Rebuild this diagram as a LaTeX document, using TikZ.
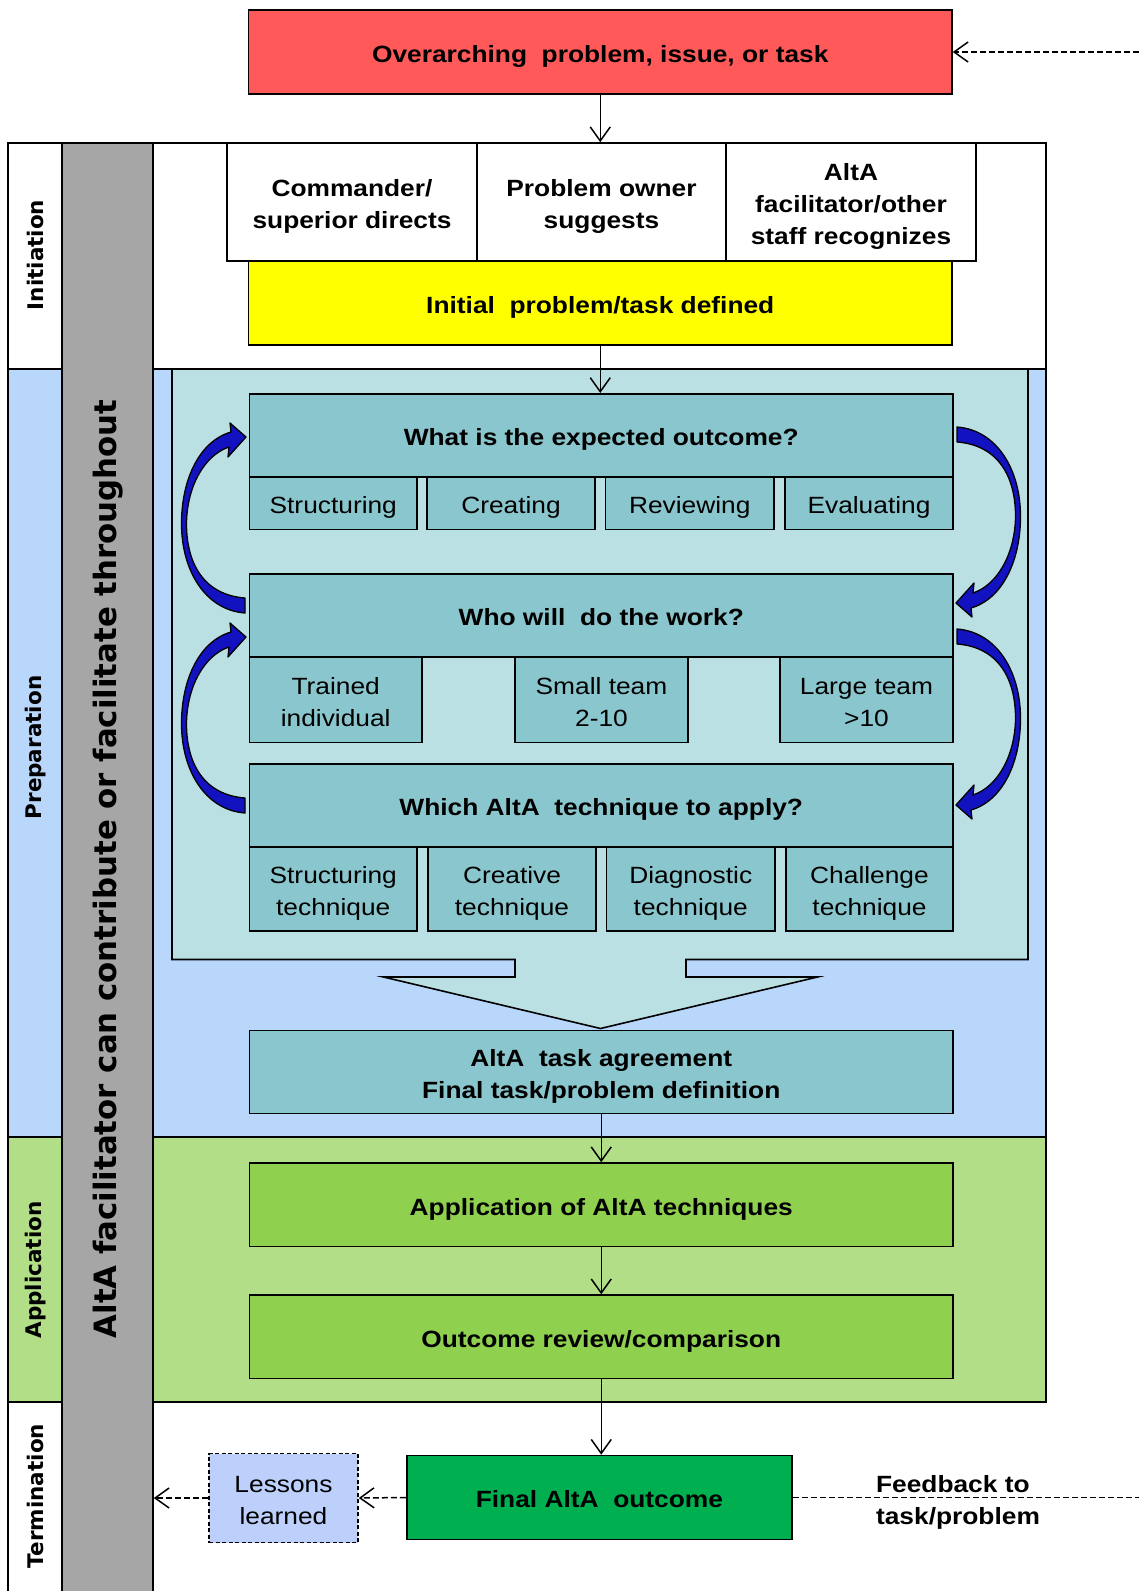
\documentclass[tikz,border=0pt]{standalone}
\usepackage{fontspec}
\setmainfont{Liberation Sans}[FakeStretch=1.12]
\newfontfamily\lblfamily{DejaVu Sans}
\usetikzlibrary{arrows.meta}
\definecolor{redc}{HTML}{FF5959}
\definecolor{yelc}{HTML}{FFFF00}
\definecolor{prepc}{HTML}{B8D7FB}
\definecolor{innc}{HTML}{BBE0E3}
\definecolor{tealc}{HTML}{8AC6CD}
\definecolor{appc}{HTML}{B1DE86}
\definecolor{greenc}{HTML}{8FD04F}
\definecolor{finc}{HTML}{00B050}
\definecolor{lesc}{HTML}{BDD0FB}
\definecolor{grayc}{HTML}{A6A6A6}
\definecolor{arrc}{HTML}{1212C0}
\newcommand\myhfont{\fontsize{23.5}{32}\selectfont\bfseries}
\newcommand\myrfont{\fontsize{23.5}{32}\selectfont}
\newcommand\mylfont{\lblfamily\fontsize{21.5}{25}\selectfont\bfseries}
\newcommand\mygfont{\lblfamily\fontsize{30.8}{36}\selectfont\bfseries}
\newcommand\tbs{\rule{0pt}{25.5pt}}
\newcommand\mycarrow[1]{%
  \filldraw[line width=1.3pt, fill=arrc, line join=round, #1]
      (245,613) .. controls (205,610) and (181,570) .. (181.5,522)
      .. controls (182,478) and (200,441) .. (231,432)
      -- (230,423) -- (246,437) -- (228,457) -- (229,447)
      .. controls (205,455) and (187.5,485) .. (186.5,522)
      .. controls (186,565) and (205,595) .. (245,598) -- cycle;}
\tikzset{
  bx/.style={draw=black, line width=1.6pt, inner sep=0pt, align=center, font=\myhfont,
    execute at begin node={\rule{0pt}{25.5pt}},
    execute at end node={\rule[-5pt]{0pt}{5pt}}},
  sbx/.style={bx, font=\myrfont, fill=tealc},
  hbx/.style={bx, fill=tealc, minimum width=703.5pt, minimum height=83pt},
  gbx/.style={bx, fill=greenc, minimum width=703.5pt, minimum height=83.5pt},
  frame/.style={draw=black, line width=1.6pt},
  lbl/.style={font=\mylfont, inner sep=0pt, rotate=90},
  conn/.style={line width=1.5pt, -{Straight Barb[length=14pt,width=20pt]}},
  dconn/.style={conn, dash pattern=on 6pt off 3pt},
  dline/.style={line width=1.5pt, dash pattern=on 6pt off 3pt}
}
\begin{document}
\begin{tikzpicture}[x=1pt,y=-1pt]
\useasboundingbox (0,0) rectangle (1139,1591);
\fill[white] (0,0) rectangle (1139,1591);

% regions
\draw[frame, fill=white] (8,143) rectangle (1046,369);
\draw[frame, fill=prepc] (8,369) rectangle (1046,1137);
\draw[frame, fill=appc] (8,1137) rectangle (1046,1402);
\draw[frame] (8,1402) -- (8,1600);

% inner box with funnel arrow
\draw[frame, fill=innc, line join=miter] (172,369) -- (1028,369) -- (1028,959.5) -- (686,959.5)
  -- (686,977) -- (817.5,977) -- (600.5,1028.5) -- (383.5,977) -- (515,977)
  -- (515,959.5) -- (172,959.5) -- cycle;

% gray bar
\node[draw=black, line width=1.6pt, fill=grayc, minimum width=91pt, minimum height=1460pt, inner sep=0pt] (bar) at (107.5,873) {};
\node[font=\mygfont, rotate=90, inner sep=0pt] (gtext) at (108.5,869) {AltA facilitator can contribute or facilitate throughout};

% phase labels
\node[lbl] (linit) at (35.5,255) {Initiation};
\node[lbl] (lprep) at (35.5,747.5) {Preparation};
\node[lbl] (lapp) at (35.5,1270) {Application};
\node[lbl] (lterm) at (35.5,1496) {Termination};

% top
\node[bx, fill=redc, minimum width=703.5pt, minimum height=84pt] (red) at (600.25,52) {Overarching\ \ problem, issue, or task};
\node[bx, fill=white, minimum width=250pt, minimum height=118pt] (cmd) at (352,202) {\tbs Commander/\\superior directs};
\node[bx, fill=white, minimum width=249pt, minimum height=118pt] (own) at (601.5,202) {\tbs Problem owner\\suggests};
\node[bx, fill=white, minimum width=250pt, minimum height=118pt] (fac) at (851,202) {\tbs AltA\\facilitator/other\\staff recognizes};
\node[bx, fill=yelc, minimum width=703.5pt, minimum height=84pt] (yel) at (600.25,303) {Initial\ \ problem/task defined};

% question 1
\node[hbx] (q1) at (601.25,435.25) {What is the expected outcome?};
\node[sbx, minimum width=167.5pt, minimum height=52.5pt] (s11) at (333.25,503.25) {Structuring};
\node[sbx, minimum width=168pt, minimum height=52.5pt] (s12) at (511,503.25) {Creating};
\node[sbx, minimum width=168.5pt, minimum height=52.5pt] (s13) at (689.75,503.25) {Reviewing};
\node[sbx, minimum width=168pt, minimum height=52.5pt] (s14) at (869,503.25) {Evaluating};

% question 2
\node[hbx] (q2) at (601.25,615.5) {Who will\ \ do the work?};
\node[sbx, minimum width=172.5pt, minimum height=85.5pt] (s21) at (335.75,699.75) {\tbs Trained\\individual};
\node[sbx, minimum width=173pt, minimum height=85.5pt] (s22) at (601.5,699.75) {\tbs Small team\\2-10};
\node[sbx, minimum width=173pt, minimum height=85.5pt] (s23) at (866.5,699.75) {\tbs Large team\\>10};

% question 3
\node[hbx] (q3) at (601.25,805.5) {Which AltA\ \ technique to apply?};
\node[sbx, minimum width=167.5pt, minimum height=84pt] (s31) at (333.25,889) {\tbs Structuring\\technique};
\node[sbx, minimum width=168pt, minimum height=84pt] (s32) at (512,889) {\tbs Creative\\technique};
\node[sbx, minimum width=168.5pt, minimum height=84pt] (s33) at (690.75,889) {\tbs Diagnostic\\technique};
\node[sbx, minimum width=167pt, minimum height=84pt] (s34) at (869.5,889) {\tbs Challenge\\technique};

% curved arrows
\mycarrow{}
\mycarrow{shift={(0,200)}}
\mycarrow{rotate around={180:(601,520)}}
\mycarrow{rotate around={180:(601,721)}, shift={(0,200)}}

% agreement and application
\node[hbx, minimum height=83pt] (agr) at (601.25,1072) {\tbs AltA\ \ task agreement\\Final task/problem definition};
\node[gbx] (app) at (601.25,1204.75) {Application of AltA techniques};
\node[gbx] (rev) at (601.25,1336.8) {Outcome review/comparison};

% termination
\node[bx, fill=finc, minimum width=385.4pt, minimum height=84pt] (fin) at (599.4,1497.5) {Final AltA\ \ outcome};
\node[bx, fill=lesc, dash pattern=on 4pt off 2.5pt, font=\myrfont, minimum width=149pt, minimum height=89pt] (les) at (283.5,1498) {\tbs Lessons\\learned};
\node[font=\myhfont, align=left, inner sep=0pt] (fb) at (958,1502) {Feedback to\\task/problem};
\coordinate (fbR) at (1139,1497.5);
\coordinate (topR) at (1139,52);

% connectors
\draw[conn] (red.south) -- (red.south |- own.north);
\draw[conn] (yel.south) -- (yel.south |- q1.north);
\draw[conn] (agr.south) -- (agr.south |- app.north);
\draw[conn] (app.south) -- (app.south |- rev.north);
\draw[conn] (rev.south) -- (rev.south |- fin.north);
\draw[dconn] (fin.west) -- (les.east);
\draw[dconn] (les.west) -- (les.west -| bar.east);
\draw[dline] (fin.east) -- (fbR);
\draw[dconn] (topR) -- (red.east);
\end{tikzpicture}
\end{document}
